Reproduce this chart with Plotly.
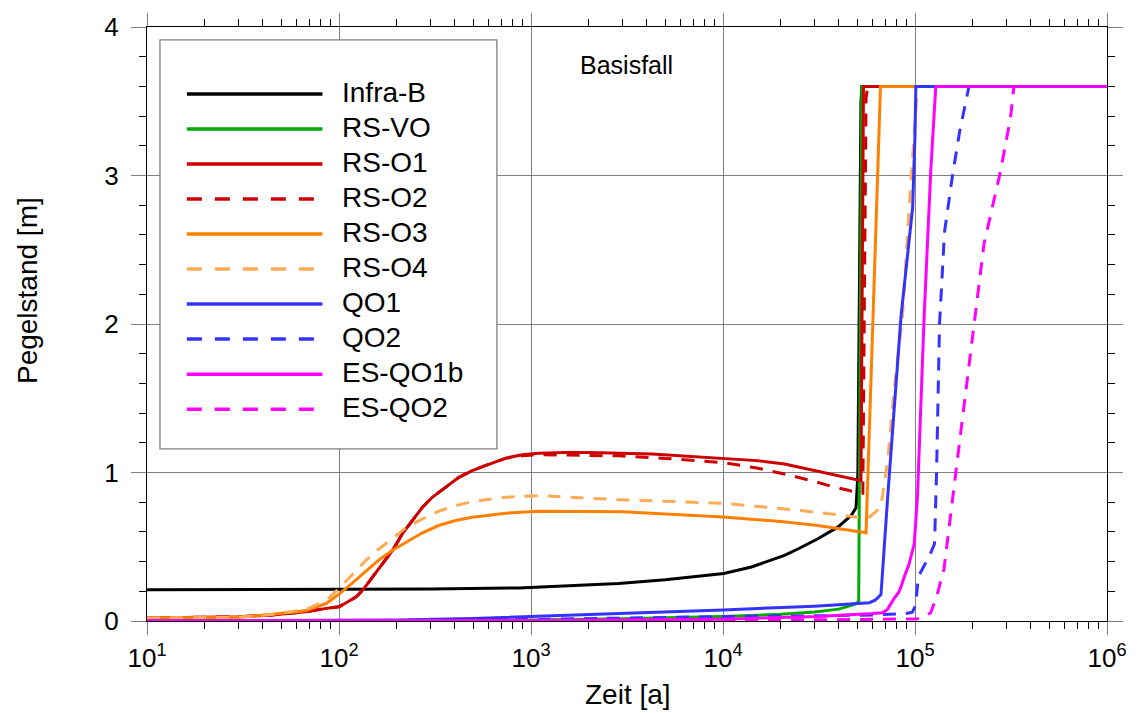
import plotly.graph_objects as go

# ---------------- data ----------------
names = ["Infra-B", "RS-VO", "RS-O1", "RS-O2", "RS-O3", "RS-O4", "QO1", "QO2", "ES-QO1b", "ES-QO2"]
colors = ["#000000", "#00aa00", "#cc0000", "#cc0000", "#ff8000", "#ffaa55", "#3333ff", "#3333ff", "#ff00ff", "#ff00ff"]
dashes = ["solid", "solid", "solid", "dash", "solid", "dash", "solid", "dash", "solid", "dash"]

t_infra_b = [10, 100, 300, 865, 2860, 5000, 7000, 10100, 14060, 20900, 25000, 31200, 39600, 46500, 49300, 50400, 52300, 52800, 1e6]
v_infra_b = [0.21, 0.212, 0.216, 0.223, 0.253, 0.278, 0.297, 0.32, 0.364, 0.442, 0.49, 0.554, 0.632, 0.71, 0.762, 0.99, 3.49, 3.6, 3.6]

t_rs_vo = [10, 300, 1000, 3000, 10000, 20000, 30000, 40000, 48000, 50900, 52800, 1e6]
v_rs_vo = [0.0, 0.002, 0.006, 0.015, 0.03, 0.045, 0.06, 0.08, 0.11, 0.13, 3.6, 3.6]

t_rs_o1 = [10, 30, 45, 67, 86, 100, 109, 123, 133, 150, 169, 190, 214, 241, 272, 306, 360, 421, 494, 604, 738, 900, 1097,
           1500, 2000, 4270, 10000, 15000, 20900, 31200, 40000, 50900, 52300, 53900, 1e6]
v_rs_o1 = [0.02, 0.029, 0.04, 0.062, 0.085, 0.096, 0.123, 0.163, 0.208, 0.297, 0.387, 0.476, 0.588, 0.677, 0.766, 0.833, 0.9, 0.967, 1.012, 1.057, 1.097, 1.119, 1.13,
           1.135, 1.134, 1.124, 1.097, 1.08, 1.057, 1.01, 0.98, 0.95, 0.945, 3.6, 3.6]

t_rs_o2 = [10, 30, 45, 67, 86, 100, 109, 123, 133, 150, 169, 190, 214, 241, 272, 306, 360, 421, 494, 604, 738, 900, 1097,
           2000, 2860, 5000, 10000, 15000, 20900, 30000, 36000, 45000, 52300, 53500, 55600, 56700, 1e6]
v_rs_o2 = [0.02, 0.029, 0.04, 0.062, 0.085, 0.096, 0.123, 0.163, 0.208, 0.297, 0.387, 0.476, 0.588, 0.677, 0.766, 0.833, 0.9, 0.967, 1.012, 1.057, 1.095, 1.113, 1.12,
           1.118, 1.112, 1.095, 1.067, 1.03, 0.99, 0.94, 0.91, 0.88, 0.855, 0.86, 3.52, 3.6, 3.6]

t_rs_o3 = [10, 30, 45, 67, 86, 100, 118, 138, 162, 190, 223, 272, 330, 405, 494, 738, 1097, 3000, 10000, 20000, 31200, 45000, 55600, 66100, 1e6]
v_rs_o3 = [0.02, 0.025, 0.045, 0.069, 0.119, 0.181, 0.259, 0.337, 0.413, 0.476, 0.531, 0.594, 0.643, 0.677, 0.699, 0.726, 0.739, 0.735, 0.70, 0.67, 0.643, 0.615, 0.594, 3.6, 3.6]

t_rs_o4 = [10, 30, 45, 67, 86, 100, 118, 138, 162, 190, 223, 272, 330, 405, 494, 738, 1097, 2860, 10000, 25500, 40000, 56700,
           66300, 72100, 78000, 86100, 93300, 99000, 103000, 1e6]
v_rs_o4 = [0.02, 0.025, 0.045, 0.076, 0.14, 0.219, 0.315, 0.409, 0.487, 0.554, 0.628, 0.688, 0.739, 0.777, 0.804, 0.833, 0.844, 0.817, 0.793, 0.744, 0.715, 0.69,
           0.764, 1.079, 1.568, 2.054, 2.787, 3.272, 3.6, 3.6]

t_qo1 = [10, 100, 200, 500, 1000, 3000, 10000, 30000, 50000, 57900, 62000, 66500, 72100, 84600, 97200, 100000, 101000, 1e6]
v_qo1 = [0.0, 0.002, 0.006, 0.017, 0.03, 0.05, 0.074, 0.1, 0.118, 0.123, 0.14, 0.178, 0.838, 2.054, 2.784, 3.27, 3.6, 3.6]

t_qo2 = [10, 300, 1000, 3000, 10000, 30000, 60000, 90000, 97000, 100700, 104200, 119000, 126400, 129500, 134200, 142500, 156800, 170500, 187500, 191000, 1e6]
v_qo2 = [0.0, 0.002, 0.01, 0.02, 0.03, 0.035, 0.04, 0.05, 0.06, 0.107, 0.30, 0.44, 0.52, 1.0, 2.0, 2.62, 3.0, 3.29, 3.57, 3.6, 3.6]

t_es_qo1b = [10, 1000, 10000, 31200, 60000, 67800, 72000, 78000, 82000, 84500, 88000, 93000, 99100, 103000, 111600, 120800, 128300, 1e6]
v_es_qo1b = [0.0, 0.003, 0.012, 0.03, 0.05, 0.056, 0.08, 0.154, 0.19, 0.23, 0.299, 0.38, 0.52, 0.838, 2.054, 3.03, 3.6, 3.6]

t_es_qo2 = [10, 1000, 10000, 50000, 95000, 103000, 110000, 120800, 130000, 141600, 166000, 195000, 228800, 279000, 314500, 327500, 1e6]
v_es_qo2 = [0.0, 0.002, 0.005, 0.01, 0.015, 0.015, 0.025, 0.056, 0.17, 0.35, 1.08, 1.81, 2.54, 3.03, 3.39, 3.6, 3.6]

series_t = [t_infra_b, t_rs_vo, t_rs_o1, t_rs_o2, t_rs_o3, t_rs_o4, t_qo1, t_qo2, t_es_qo1b, t_es_qo2]
series_v = [v_infra_b, v_rs_vo, v_rs_o1, v_rs_o2, v_rs_o3, v_rs_o4, v_qo1, v_qo2, v_es_qo1b, v_es_qo2]

x_tickvals = [1e1, 1e2, 1e3, 1e4, 1e5, 1e6]
x_ticktext = ["10<sup>1</sup>", "10<sup>2</sup>", "10<sup>3</sup>", "10<sup>4</sup>", "10<sup>5</sup>", "10<sup>6</sup>"]
y_tickvals = [0, 1, 2, 3, 4]

title_text = "Basisfall"
x_title = "Zeit [a]"
y_title = "Pegelstand [m]"

# ---------------- figure ----------------
W, H = 1139, 713
ML, MR, MT, MB = 147, 29, 24, 92
PW, PH = W - ML - MR, H - MT - MB
FONT = "Liberation Sans, Arial, sans-serif"


def px_x(px):
    return (px - ML) / PW


def px_y(py):
    return (H - MB - py) / PH


fig = go.Figure()
for name, t, v, c, d in zip(names, series_t, series_v, colors, dashes):
    fig.add_trace(go.Scatter(
        x=t, y=v, mode="lines", name=name,
        line=dict(color=c, width=3, dash=("13px,10px" if d == "dash" else "solid")),
    ))

shapes = []
annotations = []

# legend box (drawn by hand to match the long line samples of the reference)
shapes.append(dict(type="rect", xref="paper", yref="paper",
                   x0=px_x(160), x1=px_x(498), y0=px_y(448), y1=px_y(37),
                   line=dict(color="#808080", width=1.3), fillcolor="white", layer="above"))
row0, row_step = 91.3, 35.2
for i, (name, c, d) in enumerate(zip(names, colors, dashes)):
    yy = row0 + i * row_step
    shapes.append(dict(type="line", xref="paper", yref="paper",
                       x0=px_x(187), x1=px_x(323), y0=px_y(yy), y1=px_y(yy),
                       line=dict(color=c, width=3.5, dash=("15px,13px" if d == "dash" else "solid")),
                       layer="above"))
    annotations.append(dict(text=name, xref="paper", yref="paper", x=px_x(341), y=px_y(yy - 1.5),
                            xanchor="left", yanchor="middle", showarrow=False,
                            font=dict(size=28, color="black", family=FONT)))

annotations.append(dict(text=title_text, xref="paper", yref="paper", x=px_x(628), y=px_y(62),
                        xanchor="center", yanchor="middle", showarrow=False,
                        font=dict(size=25, color="black", family=FONT)))
annotations.append(dict(text=x_title, xref="paper", yref="paper", x=px_x(630), y=px_y(695),
                        xanchor="center", yanchor="middle", showarrow=False,
                        font=dict(size=28, color="black", family=FONT)))
annotations.append(dict(text=y_title, xref="paper", yref="paper", x=px_x(27), y=px_y(289),
                        xanchor="center", yanchor="middle", showarrow=False, textangle=-90,
                        font=dict(size=28, color="black", family=FONT)))

fig.update_layout(
    width=W, height=H,
    margin=dict(l=ML, r=MR, t=MT, b=MB, pad=0),
    plot_bgcolor="white", paper_bgcolor="white",
    font=dict(family=FONT, size=25, color="black"),
    showlegend=False,
    shapes=shapes, annotations=annotations,
    xaxis=dict(
        type="log", range=[1, 6],
        tickmode="array", tickvals=x_tickvals, ticktext=x_ticktext,
        ticks="outside", ticklen=13, tickwidth=1, tickcolor="#808080",
        showline=True, linecolor="black", linewidth=1, mirror="ticks",
        showgrid=True, gridcolor="#808080", gridwidth=1, zeroline=False,
        tickfont=dict(size=26, family=FONT, color="black"),
        ticklabelstandoff=1,
        minor=dict(ticks="outside", ticklen=7, tickwidth=1, tickcolor="black", dtick="D1", showgrid=False),
    ),
    yaxis=dict(
        range=[0, 4], tickmode="array", tickvals=y_tickvals,
        ticks="outside", ticklen=15, tickwidth=1, tickcolor="#808080",
        showline=True, linecolor="black", linewidth=1, mirror="ticks",
        showgrid=True, gridcolor="#808080", gridwidth=1, zeroline=False,
        tickfont=dict(size=26, family=FONT, color="black"),
        ticklabelstandoff=7,
        minor=dict(ticks="outside", ticklen=7, tickwidth=1, tickcolor="black", dtick=0.2, showgrid=False),
    ),
)

fig.write_html("out.html", config={"displayModeBar": False},
               post_script="document.body.style.margin='0';")
